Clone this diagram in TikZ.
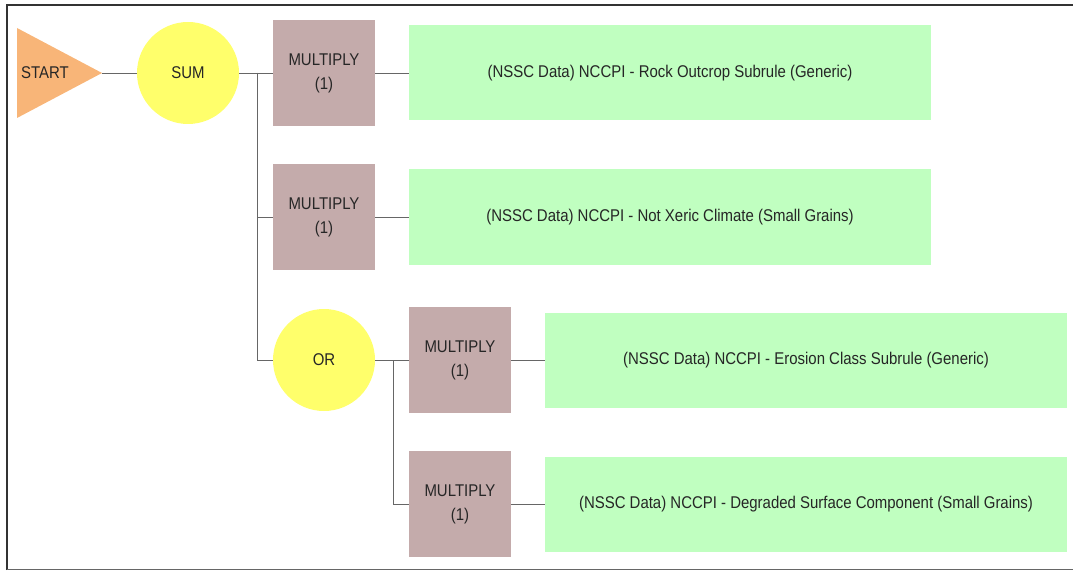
\documentclass[tikz,border=0pt]{standalone}
\usepackage{fontspec}
\setmainfont{Liberation Sans}[FakeStretch=0.88]
\usepackage{xcolor}
\usepackage{tikz}
\usetikzlibrary{positioning}
\definecolor{startorange}{HTML}{F8B578}
\definecolor{opyellow}{HTML}{FFFF6B}
\definecolor{mulbrown}{HTML}{C4ABAB}
\definecolor{datagreen}{HTML}{C0FFC0}
\tikzstyle{txt} = [font=\fontsize{17}{24}\selectfont, text=black!85]
\tikzstyle{operator} = [circle, minimum size=102pt, inner sep=0pt, fill=opyellow, txt]
\tikzstyle{multiply} = [rectangle, minimum width=102pt, minimum height=106pt, inner sep=0pt, align=center, fill=mulbrown, txt]
\tikzstyle{data} = [rectangle, minimum width=522pt, minimum height=95pt, inner sep=0pt, fill=datagreen, txt]
\tikzstyle{link} = [draw=black!60, line width=0.9pt]

\begin{document}
\begin{tikzpicture}[x=1pt, y=-1pt]
		\useasboundingbox (0,0) rectangle (1073,572);
		
		% frame
		\draw[black!80, line width=2.5pt] (7,570) -- (7,5) -- (1073,5);
		\draw[black!60, line width=1.2pt] (7,569.5) -- (1073,569.5);
		
		% start
		\fill[startorange] (17,28) -- (102,73) -- (17,118) -- cycle;
		\coordinate (tip) at (102,73);
		\node (start) [txt] at (45,73) {START};
		
		\node (sum) [operator] at (188,73) {SUM};
		\node (mul1) [multiply] at (324,73) {MULTIPLY\\(1)};
		\node (rock) [data] at (670,73) {(NSSC Data) NCCPI - Rock Outcrop Subrule (Generic)};
		\node (mul2) [multiply] at (324,217) {MULTIPLY\\(1)};
		\node (xeric) [data] at (670,217) {(NSSC Data) NCCPI - Not Xeric Climate (Small Grains)};
		\node (or) [operator] at (324,360) {OR};
		\node (mul3) [multiply] at (460,360) {MULTIPLY\\(1)};
		\node (erosion) [data] at (806,360) {(NSSC Data) NCCPI - Erosion Class Subrule (Generic)};
		\node (mul4) [multiply] at (460,504) {MULTIPLY\\(1)};
		\node (degraded) [data] at (806,504) {(NSSC Data) NCCPI - Degraded Surface Component (Small Grains)};
		
		\coordinate (sumjoin) at (257,73);
		\coordinate (orjoin) at (393,360);
		
		\draw [link] (tip) -- (sum);
		\draw [link] (sum) -- (mul1);
		\draw [link] (sumjoin) |- (mul2);
		\draw [link] (sumjoin) |- (or);
		\draw [link] (mul1) -- (rock);
		\draw [link] (mul2) -- (xeric);
		\draw [link] (or) -- (mul3);
		\draw [link] (orjoin) |- (mul4);
		\draw [link] (mul3) -- (erosion);
		\draw [link] (mul4) -- (degraded);
		
	\end{tikzpicture}
\end{document}
